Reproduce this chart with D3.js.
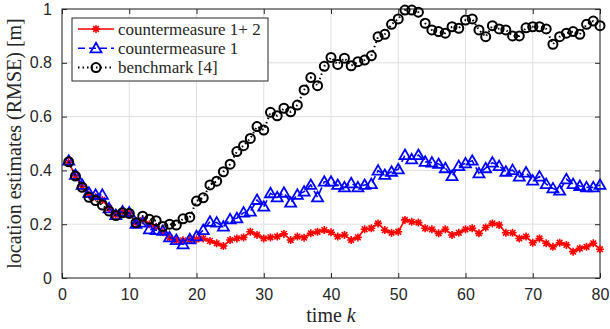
<!DOCTYPE html>
<html>
<head>
<meta charset="utf-8">
<script src="https://cdn.jsdelivr.net/npm/d3@7"></script>
<style>
  body { margin: 0; background: #fff; }
  text { fill: #262626; }
  .serif { font-family: 'Liberation Serif', 'DejaVu Serif', serif; }
</style>
</head>
<body>
<div id="chart"></div>
<script>
// time steps k
const steps = [1,2,3,4,5,6,7,8,9,10,11,12,13,14,15,16,17,18,19,20,
  21,22,23,24,25,26,27,28,29,30,31,32,33,34,35,36,37,38,39,40,
  41,42,43,44,45,46,47,48,49,50,51,52,53,54,55,56,57,58,59,60,
  61,62,63,64,65,66,67,68,69,70,71,72,73,74,75,76,77,78,79,80];

// countermeasure 1+ 2 (red)
const cm12 = [0.43,0.38,0.34,0.31,0.30,0.29,0.26,0.235,0.245,0.24,0.205,0.215,0.2,0.19,0.17,0.15,0.14,0.14,0.142,0.144,
  0.147,0.138,0.129,0.119,0.141,0.147,0.151,0.172,0.16,0.147,0.151,0.154,0.164,0.141,0.154,0.15,0.166,0.172,0.178,0.17,
  0.154,0.16,0.141,0.151,0.181,0.185,0.203,0.178,0.168,0.172,0.216,0.209,0.206,0.185,0.181,0.166,0.181,0.16,0.168,0.181,
  0.185,0.166,0.188,0.203,0.197,0.168,0.168,0.147,0.154,0.131,0.147,0.129,0.116,0.131,0.123,0.098,0.11,0.116,0.129,0.107];

// countermeasure 1 (blue)
const cm1 = [0.436,0.383,0.346,0.317,0.309,0.309,0.259,0.234,0.247,0.243,0.201,0.206,0.181,0.178,0.175,0.151,0.141,0.125,0.144,0.155,
  0.178,0.209,0.206,0.191,0.218,0.222,0.243,0.247,0.29,0.265,0.315,0.3,0.317,0.28,0.309,0.321,0.346,0.3,0.358,0.358,
  0.346,0.337,0.352,0.337,0.346,0.349,0.399,0.383,0.395,0.404,0.457,0.441,0.457,0.432,0.429,0.424,0.408,0.379,0.416,0.426,
  0.436,0.389,0.408,0.429,0.416,0.395,0.401,0.377,0.392,0.362,0.377,0.349,0.333,0.325,0.367,0.349,0.342,0.337,0.337,0.346];

// benchmark [4] (black)
const bench = [0.432,0.379,0.337,0.3,0.288,0.271,0.249,0.232,0.243,0.24,0.205,0.23,0.218,0.213,0.191,0.2,0.197,0.22,0.226,0.286,
  0.298,0.346,0.36,0.395,0.423,0.47,0.492,0.519,0.563,0.55,0.616,0.603,0.631,0.618,0.643,0.699,0.745,0.715,0.787,0.82,
  0.794,0.817,0.789,0.804,0.81,0.826,0.897,0.906,0.943,0.963,0.996,0.996,0.988,0.947,0.922,0.916,0.91,0.934,0.928,0.959,
  0.963,0.922,0.897,0.938,0.926,0.922,0.9,0.9,0.93,0.934,0.934,0.926,0.869,0.897,0.91,0.916,0.906,0.943,0.955,0.938];

const xTicks = [0,10,20,30,40,50,60,70,80];
const yTicks = [0,0.2,0.4,0.6,0.8,1];
const yTickLabels = ['0','0.2','0.4','0.6','0.8','1'];
const seriesNames = ['countermeasure 1+ 2','countermeasure 1','benchmark [4]'];

const width = 610, height = 329;
const mLeft = 62, mRight = 600, mTop = 9, mBottom = 278;
const axisColor = '#262626';

const svg = d3.select('#chart').append('svg')
  .attr('width', width)
  .attr('height', height)
  .attr('viewBox', [0, 0, width, height]);

const x = d3.scaleLinear().domain([0, 80]).range([mLeft, mRight]);
const y = d3.scaleLinear().domain([0, 1]).range([mBottom, mTop]);

// grid
const grid = svg.append('g');
grid.selectAll('.gx').data(xTicks).join('line')
  .attr('x1', d => x(d)).attr('x2', d => x(d))
  .attr('y1', mTop).attr('y2', mBottom)
  .style('stroke', '#dfdfdf').style('stroke-width', 1);
grid.selectAll('.gy').data(yTicks).join('line')
  .attr('x1', mLeft).attr('x2', mRight)
  .attr('y1', d => y(d)).attr('y2', d => y(d))
  .style('stroke', '#dfdfdf').style('stroke-width', 1);

// axes (ticks inward, box on)
const tickLen = 5;
const xa = svg.append('g').attr('transform', 'translate(0,' + mBottom + ')')
  .call(d3.axisBottom(x).tickValues(xTicks).tickSizeInner(-tickLen).tickSizeOuter(0).tickPadding(11));
const ya = svg.append('g').attr('transform', 'translate(' + mLeft + ',0)')
  .call(d3.axisLeft(y).tickValues(yTicks).tickFormat((d, i) => yTickLabels[i]).tickSizeInner(-tickLen).tickSizeOuter(0).tickPadding(10));
const xt = svg.append('g').attr('transform', 'translate(0,' + mTop + ')')
  .call(d3.axisTop(x).tickValues(xTicks).tickSizeInner(-tickLen).tickSizeOuter(0).tickFormat(''));
const yr = svg.append('g').attr('transform', 'translate(' + mRight + ',0)')
  .call(d3.axisRight(y).tickValues(yTicks).tickSizeInner(-tickLen).tickSizeOuter(0).tickFormat(''));

[xa, ya, xt, yr].forEach(g => {
  g.select('.domain').remove();
  g.selectAll('line').style('stroke', axisColor);
  g.selectAll('text')
    .attr('font-family', 'Liberation Sans, Arial, sans-serif')
    .attr('font-size', 16)
    .style('fill', axisColor);
});

svg.append('rect')
  .attr('x', mLeft).attr('y', mTop)
  .attr('width', mRight - mLeft).attr('height', mBottom - mTop)
  .style('fill', 'none').style('stroke', axisColor).style('stroke-width', 1);

// series
const asterisk = r => {
  const a = r * 0.7071;
  return `M${-r},0L${r},0M0,${-r}L0,${r}M${-a},${-a}L${a},${a}M${-a},${a}L${a},${-a}`;
};
const triangle = 'M0,-5.5L5.5,4L-5.5,4Z';

const line = d3.line().x(d => x(d[0])).y(d => y(d[1]));
const zip = vals => steps.map((k, i) => [k, vals[i]]);

const series = [
  { vals: cm12, color: '#ff0000', dash: null, width: 1.6 },
  { vals: cm1, color: '#0000ff', dash: '7,4', width: 1.6 },
  { vals: bench, color: '#000000', dash: '1.5,3', width: 2 }
];

function drawMarker(g, s, idx) {
  if (idx === 0) {
    g.append('path').attr('d', asterisk(4))
      .style('stroke', s.color).style('stroke-width', 1.6).style('fill', 'none');
  } else if (idx === 1) {
    g.append('path').attr('d', triangle)
      .style('stroke', s.color).style('stroke-width', 1.8).style('fill', 'none');
  } else {
    g.append('circle').attr('r', 4.5)
      .style('stroke', s.color).style('stroke-width', 2).style('fill', 'none');
  }
}

series.forEach((s, idx) => {
  const layer = svg.append('g');
  layer.append('path')
    .datum(zip(s.vals))
    .attr('d', line)
    .style('fill', 'none')
    .style('stroke', s.color)
    .style('stroke-width', s.width)
    .style('stroke-dasharray', s.dash);
  layer.selectAll('g.m').data(zip(s.vals)).join('g')
    .attr('class', 'm')
    .attr('transform', d => 'translate(' + x(d[0]) + ',' + y(d[1]) + ')')
    .each(function () { drawMarker(d3.select(this), s, idx); });
});

// legend
const lg = svg.append('g');
lg.append('rect')
  .attr('x', 72).attr('y', 18).attr('width', 196).attr('height', 63)
  .style('fill', '#fff').style('stroke', '#262626').style('stroke-width', 1);
series.forEach((s, idx) => {
  const ly = 29 + idx * 19.3;
  lg.append('line')
    .attr('x1', 78).attr('x2', 114).attr('y1', ly).attr('y2', ly)
    .style('stroke', s.color).style('stroke-width', s.width)
    .style('stroke-dasharray', s.dash);
  const mg = lg.append('g').attr('transform', 'translate(96,' + ly + ')');
  drawMarker(mg, s, idx);
  lg.append('text')
    .attr('class', 'serif')
    .attr('x', 118).attr('y', ly)
    .attr('dy', '0.33em')
    .attr('font-size', 17)
    .text(seriesNames[idx]);
});

// axis labels
const xl = svg.append('text')
  .attr('class', 'serif')
  .attr('x', (mLeft + mRight) / 2).attr('y', 322)
  .attr('text-anchor', 'middle')
  .attr('font-size', 20);
xl.append('tspan').text('time ');
xl.append('tspan').style('font-style', 'italic').text('k');

svg.append('text')
  .attr('class', 'serif')
  .attr('transform', 'translate(21,' + ((mTop + mBottom) / 2) + ') rotate(-90)')
  .attr('text-anchor', 'middle')
  .attr('font-size', 20)
  .text('location estimates (RMSE) [m]');
</script>
</body>
</html>
